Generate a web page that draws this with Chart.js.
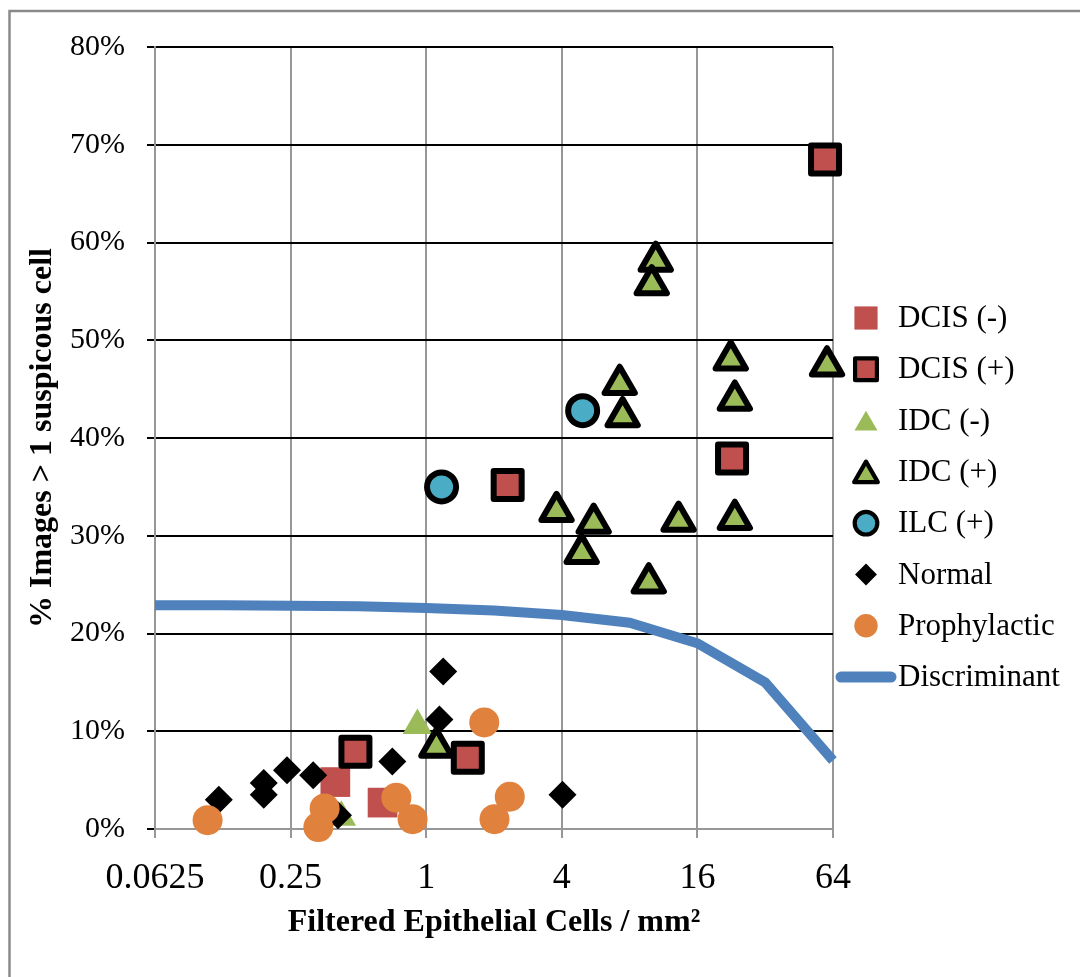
<!DOCTYPE html>
<html lang="en">
<head>
<meta charset="UTF-8" />
<title>Filtered Epithelial Cells vs suspicious images</title>
<script src="https://cdn.jsdelivr.net/npm/chart.js"></script>
<style>
  html, body { margin: 0; padding: 0; background: #fff; }
  #wrap { width: 1080px; height: 977px; position: relative; }
</style>
</head>
<body>
<div id="wrap"><canvas id="cellsChart"></canvas></div>
<script>
// x = filtered epithelial cells / mm2 (log scale), y = % images > 1 suspicious cell
const xTicks = [0.0625, 0.25, 1, 4, 16, 64];

const dcisNegX = [0.395, 0.64];
const dcisNegY = [4.8, 2.7];

const dcisPosX = [0.485, 1.53, 2.30, 22.8, 59.0];
const dcisPosY = [7.9, 7.3, 35.2, 37.9, 68.5];

const idcNegX = [0.914, 0.42];
const idcNegY = [10.6, 1.2];

const idcPosX = [1.11, 3.79, 5.54, 4.90, 13.2, 9.73, 10.45, 10.03, 22.5, 60.2, 7.23, 7.45, 23.46, 23.46];
const idcPosY = [8.4, 32.5, 31.3, 28.2, 31.5, 25.2, 58.1, 55.7, 48.0, 47.4, 45.5, 42.2, 43.9, 31.7];

const ilcPosX = [1.17, 4.95];
const ilcPosY = [35.0, 42.8];

const normalX = [1.19, 1.145, 0.707, 0.315, 0.241, 0.19, 0.19, 0.12, 0.406, 4.03];
const normalY = [16.1, 11.2, 6.9, 5.5, 6.0, 4.7, 3.5, 3.0, 1.4, 3.5];

const prophX = [0.107, 0.332, 0.354, 0.737, 0.87, 1.81, 2.35, 2.01];
const prophY = [0.9, 0.2, 2.1, 3.2, 1.0, 10.9, 3.3, 1.0];

const discX = [0.0625, 0.125, 0.25, 0.5, 1, 2, 4, 8, 16, 32, 64];
const discY = [22.9, 22.9, 22.85, 22.8, 22.6, 22.35, 21.9, 21.1, 19.0, 15.0, 7.0];

function pts(xs, ys) {
  return xs.map((x, i) => ({ x: x, y: ys[i] }));
}

Chart.defaults.font.family = "'Liberation Serif', 'Times New Roman', serif";
Chart.defaults.color = '#000';

const GRAY = '#979797';

// outer frame of the chart object
const framePlugin = {
  id: 'frame',
  beforeDraw(chart) {
    const ctx = chart.ctx;
    ctx.save();
    ctx.strokeStyle = '#8a8a8a';
    ctx.lineWidth = 2.5;
    ctx.strokeRect(9.5, 11, 1200, 1200);
    ctx.restore();
  },
  beforeDatasetsDraw(chart) {
    chart.ctx.lineJoin = 'round';
  }
};

// legend on the right, markers a bit smaller than in the plot
const sideLegend = {
  id: 'sideLegend',
  afterDraw(chart) {
    const ctx = chart.ctx;
    const top = 318, step = 51.3, markX = 866, textX = 898;
    ctx.save();
    ctx.lineJoin = 'round';
    ctx.font = "31px 'Liberation Serif'";
    ctx.textBaseline = 'middle';
    ctx.textAlign = 'left';
    chart.data.datasets.forEach((ds, i) => {
      const y = top + i * step;
      if (ds.showLine) {
        ctx.strokeStyle = ds.borderColor;
        ctx.lineWidth = 11;
        ctx.lineCap = 'round';
        ctx.beginPath();
        ctx.moveTo(841, y);
        ctx.lineTo(891, y);
        ctx.stroke();
      } else {
        const r = ds.pointRadius * 0.78;
        const bw = ds.pointBorderWidth * 0.7;
        ctx.fillStyle = ds.pointBackgroundColor;
        ctx.strokeStyle = ds.pointBorderColor || '#000';
        ctx.lineWidth = bw;
        const dy = ds.pointStyle === 'triangle' ? r / 4 : 0;
        Chart.helpers.drawPoint(ctx, { pointStyle: ds.pointStyle, radius: r, borderWidth: bw, rotation: 0 }, markX, y + dy);
      }
      ctx.fillStyle = '#000';
      ctx.fillText(ds.label, textX, y + 1);
    });
    ctx.restore();
  }
};

new Chart(document.getElementById('cellsChart'), {
  type: 'scatter',
  data: {
    datasets: [
      { label: 'DCIS (-)', data: pts(dcisNegX, dcisNegY), pointStyle: 'rect', pointRadius: 21,
        pointBackgroundColor: '#c0504d', pointBorderWidth: 0, order: 7 },
      { label: 'DCIS (+)', data: pts(dcisPosX, dcisPosY), pointStyle: 'rect', pointRadius: 19.8,
        pointBackgroundColor: '#c0504d', pointBorderColor: '#000', pointBorderWidth: 6, order: 6 },
      { label: 'IDC (-)', data: pts(idcNegX, idcNegY), pointStyle: 'triangle', pointRadius: 17,
        pointBackgroundColor: '#9bbb59', pointBorderWidth: 0, order: 5 },
      { label: 'IDC (+)', data: pts(idcPosX, idcPosY), pointStyle: 'triangle', pointRadius: 17.5,
        pointBackgroundColor: '#9bbb59', pointBorderColor: '#000', pointBorderWidth: 6, order: 4 },
      { label: 'ILC (+)', data: pts(ilcPosX, ilcPosY), pointStyle: 'circle', pointRadius: 14.5,
        pointBackgroundColor: '#4bacc6', pointBorderColor: '#000', pointBorderWidth: 6, order: 3 },
      { label: 'Normal', data: pts(normalX, normalY), pointStyle: 'rectRot', pointRadius: 14,
        pointBackgroundColor: '#000', pointBorderWidth: 0, order: 2 },
      { label: 'Prophylactic', data: pts(prophX, prophY), pointStyle: 'circle', pointRadius: 15,
        pointBackgroundColor: '#e0823d', pointBorderWidth: 0, order: 1 },
      { label: 'Discriminant', data: pts(discX, discY), showLine: true, pointRadius: 0,
        borderColor: '#4f81bd', borderWidth: 10, tension: 0, order: 0 }
    ]
  },
  options: {
    responsive: true,
    maintainAspectRatio: false,
    animation: false,
    clip: false,
    layout: { padding: { left: 10, top: 47, right: 247, bottom: 20 } },
    plugins: {
      legend: { display: false },
      tooltip: { enabled: false }
    },
    scales: {
      x: {
        type: 'logarithmic',
        min: 0.0625,
        max: 64,
        afterBuildTicks: (axis) => { axis.ticks = xTicks.map(v => ({ value: v })); },
        afterFit: (scale) => { scale.height = 128; },
        ticks: {
          autoSkip: false,
          maxRotation: 0,
          padding: 19,
          font: { size: 36 },
          callback: (v) => String(v)
        },
        grid: { color: GRAY, lineWidth: 2, tickLength: 9, tickColor: GRAY },
        border: { color: GRAY, width: 2 },
        title: {
          display: true,
          text: 'Filtered Epithelial Cells / mm²',
          font: { size: 32, weight: 'bold' },
          padding: { top: 0, bottom: 15 }
        }
      },
      y: {
        min: 0,
        max: 80,
        afterFit: (scale) => { scale.width = 145; },
        ticks: {
          stepSize: 10,
          padding: 22,
          font: { size: 30 },
          callback: (v) => v + '%'
        },
        grid: {
          color: (c) => (c.tick && c.tick.value === 0 ? GRAY : '#000'),
          lineWidth: 2,
          tickLength: 8,
          tickColor: '#000'
        },
        border: { color: GRAY, width: 2 },
        title: {
          display: true,
          text: '% Images > 1 suspicous cell',
          font: { size: 32, weight: 'bold' },
          padding: { top: 14, bottom: 0 }
        }
      }
    }
  },
  plugins: [framePlugin, sideLegend]
});
</script>
</body>
</html>
